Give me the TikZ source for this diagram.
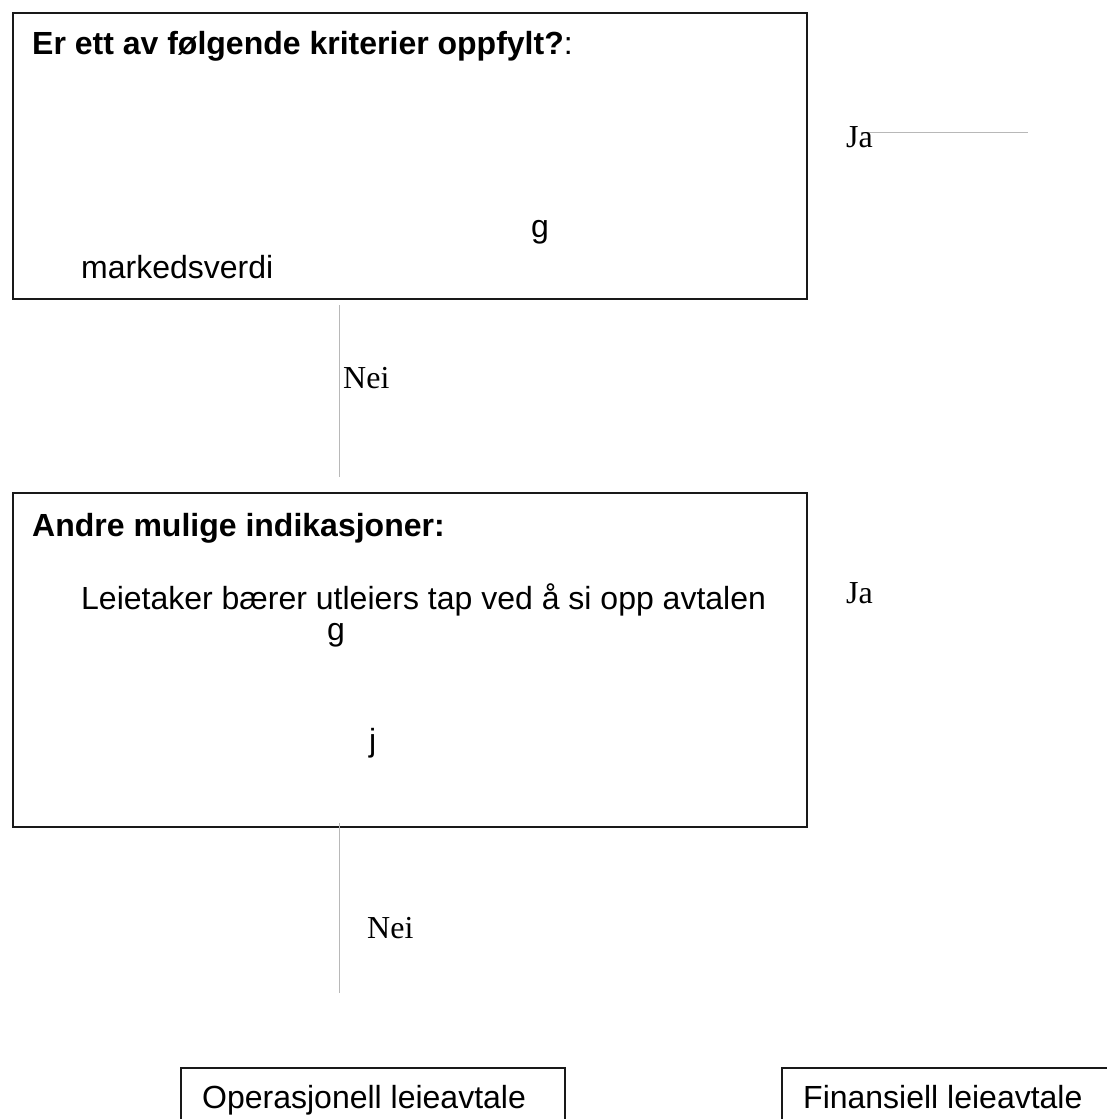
\documentclass[tikz,border=0pt]{standalone}
\usepackage{fontspec}
\newfontfamily\arialf{Liberation Sans}
\newfontfamily\tnrf{Liberation Serif}
\begin{document}
\begin{tikzpicture}[x=1pt,y=-1pt,
  boxstyle/.style={draw=black!90,line width=2pt,inner sep=0pt,anchor=north west},
  smallbox/.style={draw=black!90,line width=1.5pt,inner sep=0pt,anchor=north west},
  boxtext/.style={anchor=base west,inner sep=0pt,font=\arialf\fontsize{32}{38}\selectfont},
  boldtext/.style={anchor=base west,inner sep=0pt,font=\arialf\fontsize{32}{38}\selectfont\bfseries},
  answer/.style={anchor=base west,inner sep=0pt,font=\tnrf\fontsize{32}{38}\selectfont},
  conn/.style={draw=black!28,line width=1pt}]
\useasboundingbox (0,0) rectangle (1107,1119);
\clip (0,0) rectangle (1107,1119);
\fill[white] (0,0) rectangle (1107,1119);
% boxes
\node[boxstyle,minimum width=794pt,minimum height=286pt] (box1) at (12,12) {};
\node[boxstyle,minimum width=794pt,minimum height=334pt] (box2) at (12,492) {};
\node[smallbox,minimum width=384pt,minimum height=100pt] (op) at (180,1067) {};
\node[smallbox,minimum width=400pt,minimum height=100pt] (fin) at (781,1067) {};
% texts box 1
\node[boldtext] (t1) at (32,54) {Er ett av følgende kriterier oppfylt?\textmd{:}};
\node[boxtext] (g1) at (531,237) {g};
\node[boxtext] (mv) at (81,278) {markedsverdi};
% texts box 2
\node[boldtext] (t2) at (32,536) {Andre mulige indikasjoner:};
\node[boxtext] (lt) at (81,609) {Leietaker bærer utleiers tap ved å si opp avtalen};
\node[boxtext] (g2) at (327,640) {g};
\node[boxtext] (j2) at (369,751) {j};
% bottom texts
\node[boxtext] (opt) at (202,1108) {Operasjonell leieavtale};
\node[boxtext] (fint) at (803,1108) {Finansiell leieavtale};
% connectors
\coordinate (n1a) at (339,305);
\coordinate (n1b) at (339,477);
\coordinate (n2a) at (339,823);
\coordinate (n2b) at (339,993);
\coordinate (j1a) at (867,132);
\coordinate (j1b) at (1028,132);
\draw[conn] (n1a) -- (n1b);
\draw[conn] (n2a) -- (n2b);
\draw[conn] (j1a) -- (j1b);
% answers
\node[answer] (nei1) at (343,388) {Nei};
\node[answer] (nei2) at (367,938) {Nei};
\node[answer] (ja1) at (846,147) {Ja};
\node[answer] (ja2) at (846,603) {Ja};
\end{tikzpicture}
\end{document}
